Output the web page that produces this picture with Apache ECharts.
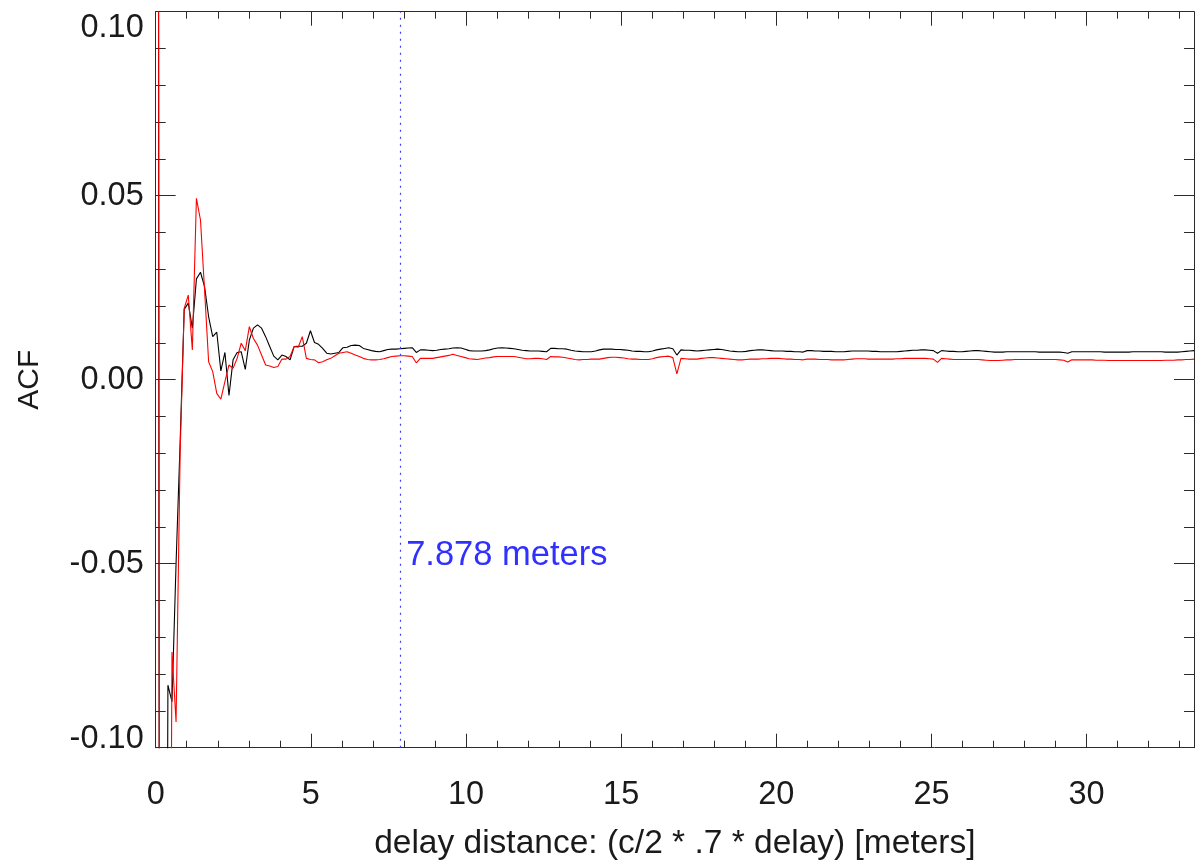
<!DOCTYPE html>
<html>
<head>
<meta charset="utf-8">
<script src="https://cdn.jsdelivr.net/npm/echarts@6/dist/echarts.min.js"></script>
<style>
html,body{margin:0;padding:0;background:#fff;}
#chart{width:1196px;height:861px;}
</style>
</head>
<body>
<div id="chart"></div>
<script>
// ---- data ----
const delayStep = 0.13122;          // metres per delay sample
const markerX = 7.878;              // marked distance (metres)
const markerLabelY = -0.0479;       // height of marker text (ACF units)
const xMajorTicks = [0, 5, 10, 15, 20, 25, 30];
const xMinorTicks = [1,2,3,4,6,7,8,9,11,12,13,14,16,17,18,19,21,22,23,24,26,27,28,29,31,32,33];
const yTickValues = [-0.10, -0.05, 0.00, 0.05, 0.10];

const acfBlack = [
  1, -0.30, -0.40, -0.083, -0.0875, -0.050, -0.017, 0.0191, 0.0208, 0.0140,
  0.0274, 0.0292, 0.0253, 0.0171, 0.0117, 0.0129, 0.0024, 0.0074, -0.0043, 0.0054,
  0.0074, 0.0076, 0.0028, 0.0108, 0.0140, 0.0149, 0.0140, 0.0117, 0.0090, 0.0064,
  0.0054, 0.0067, 0.0063, 0.0054, 0.0090, 0.0091, 0.0091, 0.0099, 0.0133, 0.0101,
  0.0096, 0.0085, 0.0072, 0.0070, 0.0072, 0.0074, 0.0087, 0.0088, 0.0093, 0.0094,
  0.0093, 0.0085, 0.0082, 0.0079, 0.0077, 0.0076, 0.0079, 0.0082, 0.0083, 0.0083,
  0.0084, 0.0085, 0.0086, 0.0087, 0.0074, 0.0081, 0.0081, 0.0080, 0.0079, 0.0080,
  0.0082, 0.0083, 0.0084, 0.0086, 0.0087, 0.0086, 0.0083, 0.0079, 0.0078, 0.0078,
  0.0078, 0.0079, 0.0081, 0.0084, 0.0086, 0.0087, 0.0086, 0.0085, 0.0084, 0.0082,
  0.0080, 0.0079, 0.0078, 0.0078, 0.0078, 0.0077, 0.0076, 0.0085, 0.0085, 0.0084,
  0.0084, 0.0083, 0.0080, 0.0078, 0.0077, 0.0076, 0.0076, 0.0076, 0.0078, 0.0081,
  0.0083, 0.0083, 0.0083, 0.0082, 0.0082, 0.0081, 0.0080, 0.0078, 0.0077, 0.0077,
  0.0076, 0.0076, 0.0078, 0.0081, 0.0083, 0.0085, 0.0087, 0.0084, 0.0067, 0.0081,
  0.0080, 0.0080, 0.0079, 0.0078, 0.0079, 0.0080, 0.0081, 0.0082, 0.0083, 0.0082,
  0.0080, 0.0078, 0.0077, 0.0076, 0.0076, 0.0077, 0.0079, 0.0080, 0.0081, 0.0081,
  0.0080, 0.0079, 0.0078, 0.0078, 0.0078, 0.0077, 0.0077, 0.0076, 0.0076, 0.0075,
  0.0079, 0.0079, 0.0078, 0.0078, 0.0077, 0.0077, 0.0077, 0.0076, 0.0076, 0.0076,
  0.0077, 0.0078, 0.0078, 0.0078, 0.0078, 0.0078, 0.0077, 0.0077, 0.0076, 0.0076,
  0.0076, 0.0076, 0.0076, 0.0077, 0.0078, 0.0079, 0.0080, 0.0080, 0.0081, 0.0081,
  0.0080, 0.0079, 0.0072, 0.0079, 0.0078, 0.0077, 0.0077, 0.0076, 0.0076, 0.0077,
  0.0078, 0.0079, 0.0079, 0.0078, 0.0077, 0.0076, 0.0075, 0.0075, 0.0075, 0.0076,
  0.0076, 0.0076, 0.0076, 0.0076, 0.0076, 0.0076, 0.0076, 0.0075, 0.0075, 0.0075,
  0.0075, 0.0075, 0.0075, 0.0074, 0.0072, 0.0076, 0.0076, 0.0076, 0.0076, 0.0076,
  0.0076, 0.0076, 0.0076, 0.0075, 0.0075, 0.0075, 0.0075, 0.0075, 0.0075, 0.0075,
  0.0076, 0.0076, 0.0076, 0.0076, 0.0076, 0.0076, 0.0076, 0.0076, 0.0075, 0.0075,
  0.0075, 0.0075, 0.0076, 0.0077, 0.0078, 0.0079
];

const acfRed = [
  1, -0.25, -0.20, -0.30, -0.074, -0.093, -0.020, 0.0194, 0.0230, 0.0081,
  0.0493, 0.0434, 0.0244, 0.0049, 0.0022, -0.0037, -0.0053, -0.0005, 0.0040, 0.0031,
  0.0058, 0.0099, 0.0079, 0.0144, 0.0112, 0.0094, 0.0067, 0.0040, 0.0037, 0.0033,
  0.0036, 0.0056, 0.0056, 0.0063, 0.0090, 0.0088, 0.0117, 0.0058, 0.0055, 0.0054,
  0.0046, 0.0049, 0.0054, 0.0058, 0.0065, 0.0072, 0.0074, 0.0076, 0.0072, 0.0067,
  0.0063, 0.0058, 0.0055, 0.0054, 0.0054, 0.0055, 0.0057, 0.0060, 0.0063, 0.0064,
  0.0065, 0.0065, 0.0064, 0.0063, 0.0046, 0.0058, 0.0058, 0.0058, 0.0058, 0.0060,
  0.0062, 0.0064, 0.0066, 0.0069, 0.0066, 0.0063, 0.0060, 0.0057, 0.0056, 0.0055,
  0.0057, 0.0059, 0.0060, 0.0062, 0.0063, 0.0063, 0.0063, 0.0063, 0.0063, 0.0061,
  0.0059, 0.0057, 0.0057, 0.0058, 0.0058, 0.0057, 0.0055, 0.0063, 0.0062, 0.0062,
  0.0061, 0.0059, 0.0057, 0.0055, 0.0054, 0.0055, 0.0055, 0.0056, 0.0056, 0.0056,
  0.0058, 0.0060, 0.0061, 0.0061, 0.0060, 0.0059, 0.0057, 0.0056, 0.0056, 0.0055,
  0.0055, 0.0055, 0.0057, 0.0060, 0.0062, 0.0063, 0.0064, 0.0060, 0.0016, 0.0058,
  0.0057, 0.0056, 0.0056, 0.0056, 0.0058, 0.0059, 0.0060, 0.0060, 0.0059, 0.0058,
  0.0057, 0.0056, 0.0055, 0.0054, 0.0054, 0.0055, 0.0056, 0.0056, 0.0056, 0.0057,
  0.0057, 0.0058, 0.0058, 0.0058, 0.0057, 0.0056, 0.0056, 0.0055, 0.0055, 0.0054,
  0.0056, 0.0056, 0.0056, 0.0055, 0.0055, 0.0055, 0.0054, 0.0054, 0.0054, 0.0054,
  0.0055, 0.0056, 0.0057, 0.0057, 0.0057, 0.0056, 0.0056, 0.0056, 0.0056, 0.0056,
  0.0056, 0.0056, 0.0057, 0.0057, 0.0058, 0.0058, 0.0058, 0.0058, 0.0058, 0.0058,
  0.0057, 0.0056, 0.0047, 0.0058, 0.0057, 0.0056, 0.0055, 0.0055, 0.0055, 0.0055,
  0.0055, 0.0055, 0.0055, 0.0054, 0.0053, 0.0052, 0.0052, 0.0052, 0.0053, 0.0054,
  0.0054, 0.0055, 0.0055, 0.0055, 0.0055, 0.0055, 0.0055, 0.0055, 0.0055, 0.0055,
  0.0055, 0.0055, 0.0054, 0.0053, 0.0048, 0.0054, 0.0054, 0.0054, 0.0054, 0.0054,
  0.0054, 0.0053, 0.0053, 0.0053, 0.0052, 0.0052, 0.0052, 0.0052, 0.0052, 0.0052,
  0.0052, 0.0052, 0.0052, 0.0052, 0.0052, 0.0052, 0.0052, 0.0052, 0.0053, 0.0053,
  0.0053, 0.0054, 0.0054, 0.0055, 0.0055, 0.0056
];

// ---- chart ----
const xMax = (acfBlack.length - 1) * delayStep;
const toPairs = arr => arr.map((v, i) => [i * delayStep, v]);

const FONT = 'Liberation Sans, Helvetica, Arial, sans-serif';
const TXT = '#1a1a1a';
const AX = '#2b2b2b';
const FS = 32.5;      // tick labels
const FS_NAME = 33.5; // x-axis title
const FS_Y = 30;      // y-axis title
const FS_MARK = 34.5; // marker text

function xAx(pos, ticks, len, showLabel, showLine, extra) {
  return Object.assign({
    type: 'value', position: pos, min: 0, max: xMax,
    axisLine: { show: showLine, onZero: false, lineStyle: { color: AX, width: 1 } },
    axisTick: { show: true, inside: true, length: len, customValues: ticks, lineStyle: { color: AX, width: 1 } },
    axisLabel: showLabel ? { show: true, customValues: ticks, fontSize: FS, fontFamily: FONT, color: TXT, margin: 31 } : { show: false },
    splitLine: { show: false }
  }, extra || {});
}
function yAx(pos, showLabel, extra) {
  return Object.assign({
    type: 'value', position: pos, min: -0.1, max: 0.1, interval: 0.05,
    axisLine: { show: true, onZero: false, lineStyle: { color: AX, width: 1 } },
    axisTick: { show: true, inside: true, length: 20, lineStyle: { color: AX, width: 1 } },
    minorTick: { show: true, splitNumber: 5, length: 10, lineStyle: { color: AX, width: 1 } },
    axisLabel: showLabel ? {
      show: true, margin: 12, fontFamily: FONT, color: TXT, fontSize: FS,
      formatter: v => {
        const s = v.toFixed(2);
        if (Math.abs(v - yTickValues[4]) < 1e-9) return '{t|' + s + '}';
        if (Math.abs(v - yTickValues[0]) < 1e-9) return '{b|' + s + '}';
        return '{n|' + s + '}';
      },
      rich: {
        t: { fontSize: FS, fontFamily: FONT, color: TXT, padding: [32, 0, 0, 0] },
        b: { fontSize: FS, fontFamily: FONT, color: TXT, padding: [0, 0, 18, 0] },
        n: { fontSize: FS, fontFamily: FONT, color: TXT }
      }
    } : { show: false },
    splitLine: { show: false },
    minorSplitLine: { show: false }
  }, extra || {});
}

const chart = echarts.init(document.getElementById('chart'), null, { renderer: 'canvas' });
chart.setOption({
  animation: false,
  backgroundColor: '#ffffff',
  grid: { left: 155.7, right: 2, top: 11.7, bottom: 113.3, containLabel: false, outerBoundsMode: 'none' },
  xAxis: [
    xAx('bottom', xMajorTicks, 14, true, true, {
      name: 'delay distance: (c/2 * .7 * delay) [meters]',
      nameLocation: 'middle', nameGap: 79,
      nameTextStyle: { fontSize: FS_NAME, fontFamily: FONT, color: TXT }
    }),
    xAx('bottom', xMinorTicks, 7, false, false),
    xAx('top', xMajorTicks, 14, false, true),
    xAx('top', xMinorTicks, 7, false, false)
  ],
  yAxis: [
    yAx('left', true, {
      name: 'ACF', nameLocation: 'middle', nameGap: 111, nameRotate: 90,
      nameTextStyle: { fontSize: FS_Y, fontFamily: FONT, color: TXT }
    }),
    yAx('right', false)
  ],
  series: [
    {
      name: 'black', type: 'line', xAxisIndex: 0, yAxisIndex: 0,
      data: toPairs(acfBlack), showSymbol: false, symbol: 'none', clip: true,
      lineStyle: { color: '#000000', width: 1.1 }, z: 3,
      markLine: {
        silent: true, symbol: ['none', 'none'], label: { show: false },
        lineStyle: { color: '#3c3cff', width: 1.2, type: [2, 5] },
        data: [{ xAxis: markerX }]
      },
      markPoint: {
        silent: true, symbol: 'circle', symbolSize: 0,
        data: [{
          coord: [markerX, markerLabelY],
          label: {
            show: true, position: 'right', distance: 6,
            formatter: markerX.toFixed(3) + ' meters',
            fontSize: FS_MARK, fontFamily: FONT, color: '#3030ff'
          }
        }]
      }
    },
    {
      name: 'red', type: 'line', xAxisIndex: 0, yAxisIndex: 0,
      data: toPairs(acfRed), showSymbol: false, symbol: 'none', clip: true,
      lineStyle: { color: '#ff0000', width: 1.1 }, z: 4
    }
  ]
});
</script>
</body>
</html>
